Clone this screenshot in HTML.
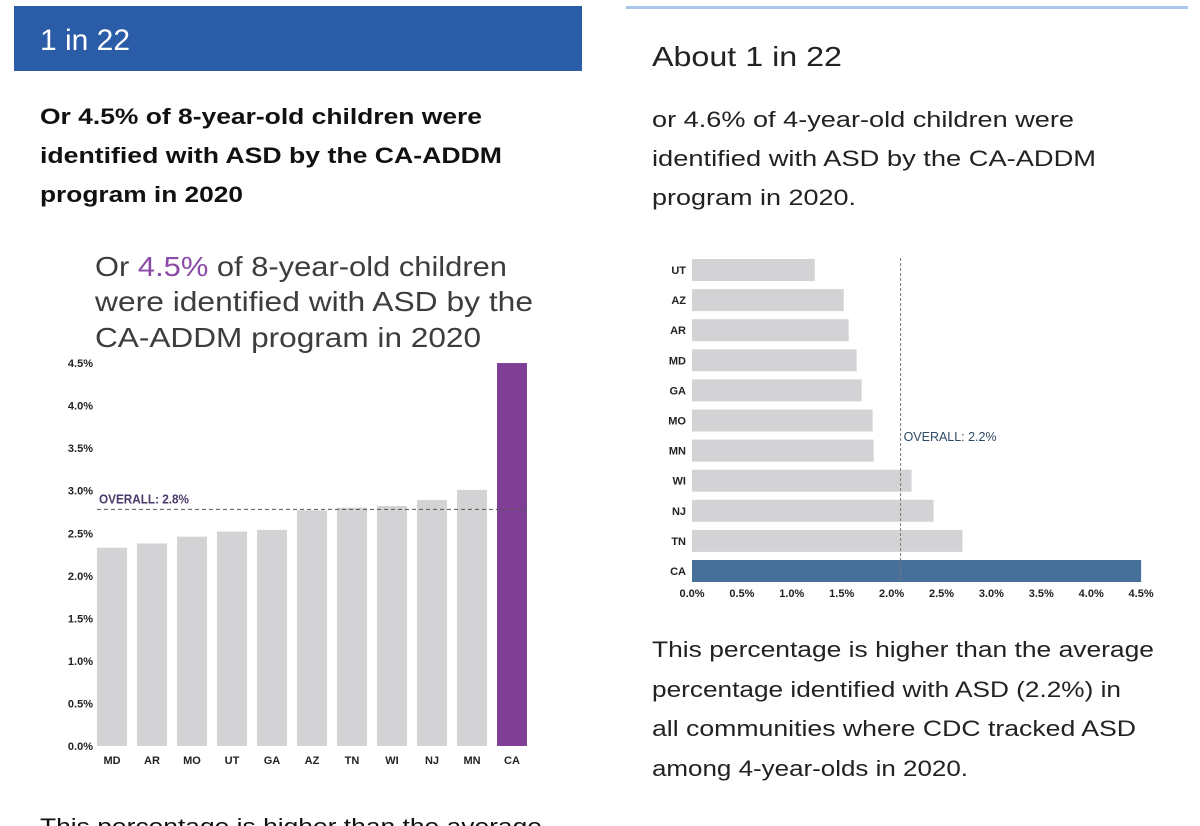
<!DOCTYPE html>
<html><head><meta charset="utf-8"><style>
body{margin:0;background:#fff;width:1200px;height:826px;overflow:hidden}
svg{display:block;font-family:"Liberation Sans",sans-serif}
.tk{font-size:11px;font-weight:bold;fill:#222}
</style></head><body>
<svg id="s" width="1200" height="826" viewBox="0 0 1200 826">
<rect x="14" y="6" width="568" height="65" fill="#2a5ca8"/>
<text x="40" y="50" font-size="30" fill="#fff" textLength="90" lengthAdjust="spacingAndGlyphs">1 in 22</text>
<g font-size="22" font-weight="bold" fill="#111">
<text x="40" y="124" textLength="442" lengthAdjust="spacingAndGlyphs">Or 4.5% of 8-year-old children were</text>
<text x="40" y="163" textLength="462" lengthAdjust="spacingAndGlyphs">identified with ASD by the CA-ADDM</text>
<text x="40" y="202" textLength="203" lengthAdjust="spacingAndGlyphs">program in 2020</text>
</g>
<g font-size="28" fill="#3d3d3d">
<text x="95" y="276" textLength="412" lengthAdjust="spacingAndGlyphs">Or <tspan fill="#8a4aa6">4.5%</tspan> of 8-year-old children</text>
<text x="95" y="311" textLength="438" lengthAdjust="spacingAndGlyphs">were identified with ASD by the</text>
<text x="95" y="347" textLength="386" lengthAdjust="spacingAndGlyphs">CA-ADDM program in 2020</text>
</g>
<g id="c1"></g>
<text x="40" y="834" font-size="22" fill="#111" textLength="502" lengthAdjust="spacingAndGlyphs">This percentage is higher than the average</text>

<rect x="626" y="6" width="562" height="3" fill="#a9c6ec"/>
<text x="652" y="66" font-size="28" fill="#222" textLength="190" lengthAdjust="spacingAndGlyphs">About 1 in 22</text>
<g font-size="22" fill="#222">
<text x="652" y="127" textLength="422" lengthAdjust="spacingAndGlyphs">or 4.6% of 4-year-old children were</text>
<text x="652" y="166" textLength="444" lengthAdjust="spacingAndGlyphs">identified with ASD by the CA-ADDM</text>
<text x="652" y="205" textLength="204" lengthAdjust="spacingAndGlyphs">program in 2020.</text>
</g>
<g id="c2"></g>
<g font-size="22" fill="#222">
<text x="652" y="657" textLength="502" lengthAdjust="spacingAndGlyphs">This percentage is higher than the average</text>
<text x="652" y="697" textLength="469" lengthAdjust="spacingAndGlyphs">percentage identified with ASD (2.2%) in</text>
<text x="652" y="736" textLength="484" lengthAdjust="spacingAndGlyphs">all communities where CDC tracked ASD</text>
<text x="652" y="776" textLength="316" lengthAdjust="spacingAndGlyphs">among 4-year-olds in 2020.</text>
</g>
</svg>
<script>
const cats1=["MD","AR","MO","UT","GA","AZ","TN","WI","NJ","MN","CA"];
const vals1=[2.33,2.38,2.46,2.52,2.54,2.77,2.80,2.82,2.89,3.01,4.5];
const ticks1=[0,0.5,1,1.5,2,2.5,3,3.5,4,4.5];
const overall1=2.78;
const cats2=["UT","AZ","AR","MD","GA","MO","MN","WI","NJ","TN","CA"];
const vals2=[1.23,1.52,1.57,1.65,1.70,1.81,1.82,2.20,2.42,2.71,4.5];
const ticks2=[0,0.5,1,1.5,2,2.5,3,3.5,4,4.5];
const overall2=2.09;
const NS="http://www.w3.org/2000/svg";
function mk(p,t,a,txt){const e=document.createElementNS(NS,t);for(const k in a)e.setAttribute(k,a[k]);if(txt!==undefined)e.textContent=txt;p.appendChild(e);return e;}
// chart 1
const c1=document.getElementById('c1');
const y1=v=>746-v*85.1, x1=i=>97+i*40;
ticks1.forEach(t=>{const e=mk(c1,'text',{x:93,y:y1(t)+4,'text-anchor':'end',class:'tk'},t.toFixed(1)+'%');

});
cats1.forEach((c,i)=>{const r=mk(c1,'rect',{x:x1(i),y:y1(vals1[i]),width:30,height:vals1[i]*85.1,fill:c==="CA"?"#7f3f95":"#d3d3d5"});


const l=mk(c1,'text',{x:x1(i)+15,y:764,'text-anchor':'middle',class:'tk'},c);

});
const ln1=mk(c1,'line',{x1:97,x2:527,y1:y1(overall1),y2:y1(overall1),stroke:'#555','stroke-dasharray':'4,3','stroke-width':1});


const ol1=mk(c1,'text',{x:99,y:y1(overall1)-6,'font-size':13,'font-weight':'bold',fill:'#4a3a6a',textLength:90,lengthAdjust:'spacingAndGlyphs'},'OVERALL: 2.8%');


// chart 2
const c2=document.getElementById('c2');
const x2=v=>692+v*99.8, y2=i=>259+i*30.1;
ticks2.forEach(t=>{const e=mk(c2,'text',{x:x2(t),y:597,'text-anchor':'middle',class:'tk'},t.toFixed(1)+'%');

});
cats2.forEach((c,i)=>{const r=mk(c2,'rect',{x:692,y:y2(i),width:vals2[i]*99.8,height:22,fill:c==="CA"?"#466f9a":"#d3d3d5"});


const l=mk(c2,'text',{x:686,y:y2(i)+15,'text-anchor':'end',class:'tk'},c);

});
const ln2=mk(c2,'line',{x1:x2(overall2),x2:x2(overall2),y1:258,y2:582,stroke:'#777','stroke-dasharray':'3,2','stroke-width':1});


const ol2=mk(c2,'text',{x:x2(overall2)+3,y:441,'font-size':13,fill:'#2f4a66',textLength:93,lengthAdjust:'spacingAndGlyphs'},'OVERALL: 2.2%');


</script>
</body></html>
